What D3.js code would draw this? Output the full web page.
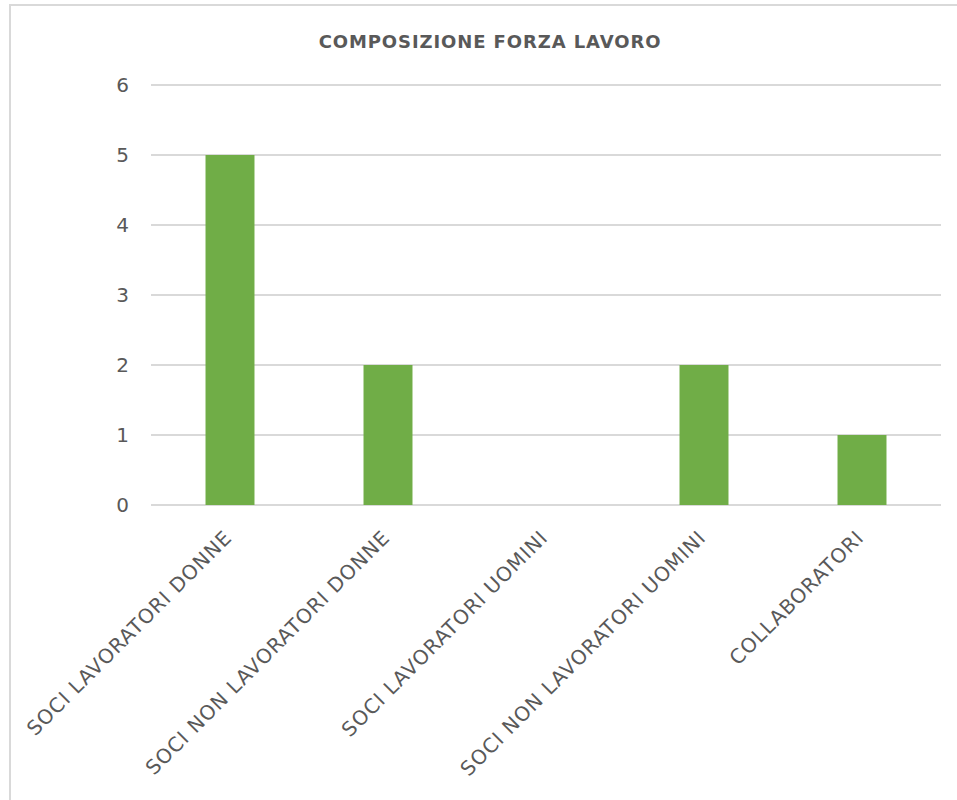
<!DOCTYPE html>
<html>
<head>
<meta charset="utf-8">
<script src="https://cdn.jsdelivr.net/npm/d3@7"></script>
<style>
  body { margin: 0; background: #fff; }
  svg text { font-family: "DejaVu Sans", Verdana, sans-serif; }
</style>
</head>
<body>
<div id="chart"></div>
<script>
var categories = [
    "SOCI LAVORATORI DONNE",
    "SOCI NON LAVORATORI DONNE",
    "SOCI LAVORATORI UOMINI",
    "SOCI NON LAVORATORI UOMINI",
    "COLLABORATORI"
];
var values = [5, 2, 0, 2, 1];
var yTicks = [0, 1, 2, 3, 4, 5, 6];
var title = "COMPOSIZIONE FORZA LAVORO";

var width = 957, height = 800;
var plotLeft = 151, plotRight = 941, plotTop = 85, plotBottom = 505;

var svg = d3.select("#chart")
    .append("svg")
    .attr("width", width)
    .attr("height", height);

// chart border (cut off at right and bottom)
svg.append("rect")
    .attr("x", 10)
    .attr("y", 5)
    .attr("width", 960)
    .attr("height", 810)
    .style("fill", "#fff")
    .style("stroke", "#d9d9d9")
    .style("stroke-width", 2);

var x = d3.scaleBand()
    .domain(categories)
    .range([plotLeft, plotRight])
    .paddingInner(0.69)
    .paddingOuter(0.345);

var y = d3.scaleLinear()
    .domain([0, 6])
    .range([plotBottom, plotTop]);

// gridlines
svg.append("g")
    .selectAll("line")
    .data(yTicks)
    .enter()
    .append("line")
    .attr("x1", plotLeft)
    .attr("x2", plotRight)
    .attr("y1", function (d) { return y(d); })
    .attr("y2", function (d) { return y(d); })
    .style("stroke", "#d9d9d9")
    .style("stroke-width", 2);

// y labels
var yAxis = svg.append("g")
    .attr("transform", "translate(" + (plotLeft - 22) + ",0)")
    .call(d3.axisLeft(y).tickValues(yTicks).tickFormat(d3.format("d")).tickSize(0).tickPadding(0));
yAxis.select(".domain").remove();
yAxis.selectAll("text")
    .attr("font-size", 20)
    .attr("fill", "#595959")
    .attr("font-family", "DejaVu Sans, sans-serif");

// bars
svg.append("g")
    .selectAll("rect")
    .data(values)
    .enter()
    .append("rect")
    .attr("x", function (d, i) { return x(categories[i]); })
    .attr("y", function (d) { return y(d); })
    .attr("width", x.bandwidth())
    .attr("height", function (d) { return y(0) - y(d); })
    .style("fill", "#70ad47");

// x labels, rotated
var xAxis = svg.append("g")
    .attr("transform", "translate(0," + plotBottom + ")")
    .call(d3.axisBottom(x).tickSize(0).tickPadding(0));
xAxis.select(".domain").remove();
xAxis.selectAll("text")
    .attr("font-size", 20)
    .attr("letter-spacing", 0.9)
    .attr("fill", "#595959")
    .attr("font-family", "DejaVu Sans, sans-serif")
    .attr("text-anchor", "end")
    .attr("dy", 0)
    .attr("transform", "translate(3,34) rotate(-45)");

// title
svg.append("text")
    .attr("x", 490)
    .attr("y", 48)
    .attr("text-anchor", "middle")
    .attr("font-size", 18)
    .attr("letter-spacing", 0.9)
    .attr("font-weight", "bold")
    .attr("fill", "#595959")
    .text(title);
</script>
</body>
</html>
